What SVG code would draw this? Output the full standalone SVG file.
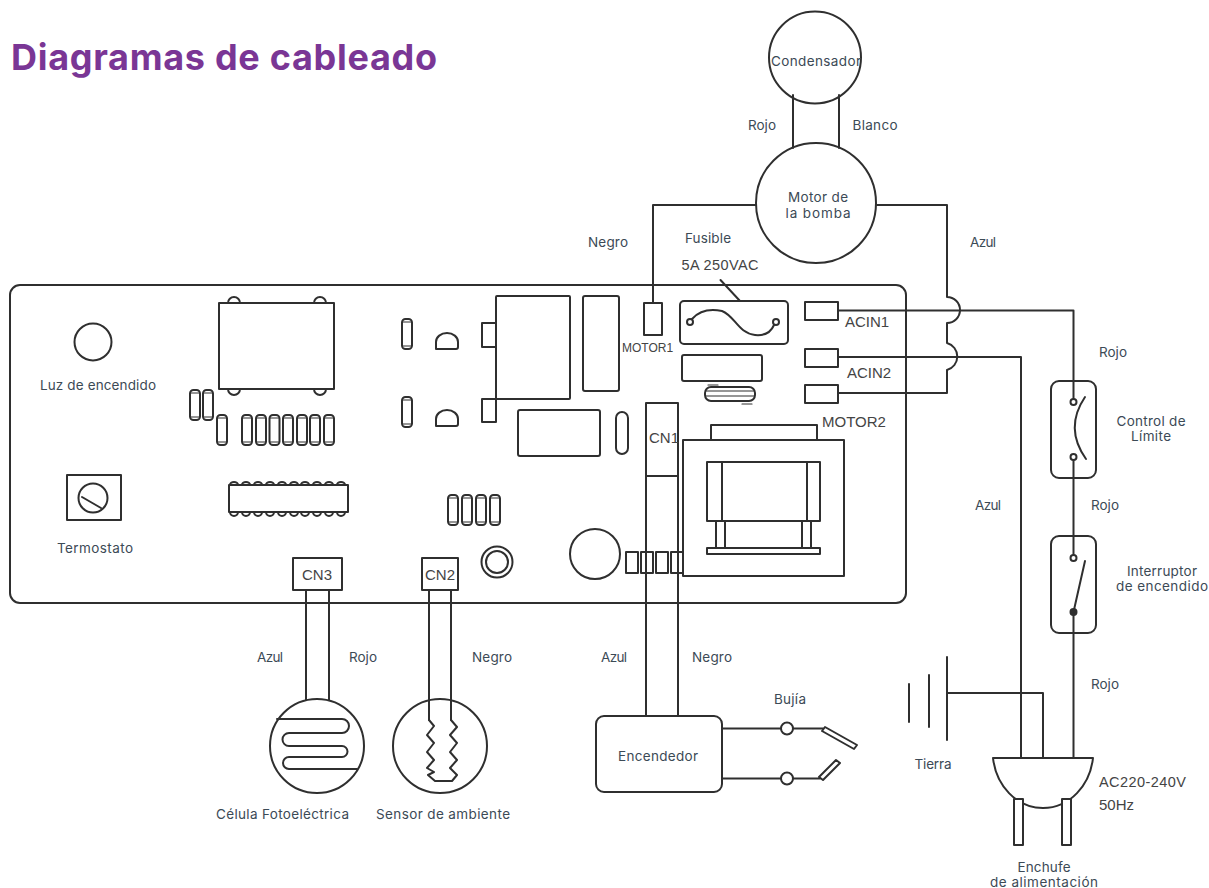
<svg xmlns="http://www.w3.org/2000/svg" width="1209" height="888" viewBox="0 0 1209 888">
<style>
.s{fill:none;stroke:#2f2f2f;stroke-width:2;stroke-linejoin:round;stroke-linecap:round}
.f{stroke-width:1.2}
.t{font-family:"Inter","Noto Sans",sans-serif;font-size:13.5px;fill:#3c4a56;text-anchor:middle}
.p{font-family:"Liberation Sans",Arial,sans-serif;fill:#444}
.ti{font-family:"Inter","Noto Sans",sans-serif;font-weight:700;font-size:36px;fill:#7a3695}
</style>
<defs>
<g id="res"><rect class="s" x="0" y="0" width="10" height="30" rx="3.500"/><path class="s f" d="M1 3H9M1 27H9"/></g>
<path id="d" class="s" d="M0 18V11a11 9 0 0 1 22 0V16a2 2 0 0 1-2 2Z"/>
</defs>
<rect width="1209" height="888" fill="#fff"/>
<text class="ti" x="11" y="70" textLength="426">Diagramas de cableado</text>

<g id="board">
<rect class="s" x="10" y="285" width="896" height="318" rx="10"/>
<g id="power-light"><circle class="s" cx="93" cy="342" r="18.500"/><text class="t" x="98" y="390" textLength="116">Luz de encendido</text></g>
<g id="thermostat"><rect class="s" x="67" y="475" width="54" height="45"/><circle class="s" cx="93" cy="498" r="14.500"/><path class="s" d="M82 497L101 508"/><text class="t" x="95" y="553" textLength="76">Termostato</text></g>
<g id="relay">
<path class="s" d="M228 303a6 6 0 0 1 12 0M314 303a6 6 0 0 1 12 0M228 389a6 6 0 0 0 12 0M314 389a6 6 0 0 0 12 0"/>
<rect class="s" x="219" y="303" width="115" height="86"/></g>
<g id="resistors-a">
<use href="#res" x="190" y="390"/><use href="#res" x="203" y="390"/><use href="#res" x="217" y="415"/>
<use href="#res" x="242" y="415"/><use href="#res" x="256" y="415"/><use href="#res" x="269.500" y="415"/><use href="#res" x="283" y="415"/><use href="#res" x="297" y="415"/><use href="#res" x="310" y="415"/><use href="#res" x="324" y="415"/></g>
<g id="ic">
<path class="s" d="M230 485a4 3 0 0 1 8 0M242 485a4 3 0 0 1 8 0M254 485a4 3 0 0 1 8 0M266 485a4 3 0 0 1 8 0M278 485a4 3 0 0 1 8 0M290 485a4 3 0 0 1 8 0M301 485a4 3 0 0 1 8 0M313 485a4 3 0 0 1 8 0M325 485a4 3 0 0 1 8 0M337 485a4 3 0 0 1 8 0"/>
<path class="s" d="M230 512a4 4 0 0 0 8 0M242 512a4 4 0 0 0 8 0M254 512a4 4 0 0 0 8 0M266 512a4 4 0 0 0 8 0M278 512a4 4 0 0 0 8 0M290 512a4 4 0 0 0 8 0M301 512a4 4 0 0 0 8 0M313 512a4 4 0 0 0 8 0M325 512a4 4 0 0 0 8 0M337 512a4 4 0 0 0 8 0"/>
<rect class="s" x="229" y="485" width="119" height="27"/></g>
<g id="cn3"><rect class="s" x="293" y="558" width="49" height="32"/><text class="p" x="317" y="580" font-size="15" text-anchor="middle">CN3</text></g>
<g id="cn2"><rect class="s" x="422" y="558" width="36" height="32"/><text class="p" x="440" y="580" font-size="15" text-anchor="middle">CN2</text></g>
<g id="mid-parts">
<use href="#res" x="402" y="319"/><use href="#res" x="402" y="397"/>
<use href="#d" x="436" y="331"/><use href="#d" x="436" y="408"/>
<rect class="s" x="482" y="323" width="14" height="24"/><rect class="s" x="482" y="399" width="14" height="23"/>
<rect class="s" x="496" y="296" width="74" height="103" rx="1"/>
<rect class="s" x="583" y="296" width="36" height="95" rx="2"/>
<rect class="s" x="518" y="410" width="82" height="46" rx="2"/>
<rect class="s" x="616" y="412" width="12" height="42" rx="6"/>
<use href="#res" x="448" y="495"/><use href="#res" x="462" y="495"/><use href="#res" x="476" y="495"/><use href="#res" x="490" y="495"/>
<circle class="s" cx="497" cy="562" r="15.500"/><circle class="s" cx="497" cy="562" r="11"/>
<circle class="s" cx="595" cy="554" r="25"/>
<rect class="s" x="626" y="552" width="12" height="21"/><rect class="s" x="641" y="552" width="12" height="21"/><rect class="s" x="656" y="552" width="12" height="21"/><rect class="s" x="671" y="552" width="12" height="21"/></g>
<g id="motor1"><rect class="s" x="644" y="303" width="18" height="32"/><text class="p" x="647.500" y="352" font-size="12" text-anchor="middle">MOTOR1</text></g>
<g id="fuse">
<rect class="s" x="680" y="301" width="108" height="43" rx="4"/>
<circle class="s" cx="690" cy="322" r="3"/><circle class="s" cx="776" cy="322" r="3"/>
<path class="s" d="M692 319C700 310 712 309 722 311C735 316 738 333 755 335C765 336 771 332 774 325"/>
<text class="t" x="708" y="243" textLength="46">Fusible</text>
<text class="p" x="720" y="270" font-size="14.500" text-anchor="middle" textLength="77">5A 250VAC</text></g>
<g id="cap-parts">
<rect class="s" x="682" y="355" width="80" height="26" rx="2"/>
<rect class="s" x="705" y="387" width="50" height="14" rx="6"/>
<path class="s f" d="M706 391H754M706 396H754M708 385H718M742 404H752"/></g>
<g id="acin">
<rect class="s" x="805" y="302" width="33" height="18"/><rect class="s" x="805" y="349" width="33" height="18"/><rect class="s" x="805" y="385" width="33" height="18"/>
<text class="p" x="845" y="327" font-size="15">ACIN1</text><text class="p" x="847" y="378" font-size="15">ACIN2</text><text class="p" x="822" y="427" font-size="15">MOTOR2</text></g>
<g id="cn1"><rect class="s" x="646" y="403" width="32" height="73"/><text class="p" x="649" y="443" font-size="15">CN1</text></g>
<g id="transformer">
<rect class="s" x="711" y="425" width="106" height="15"/>
<rect class="s" x="683" y="440" width="161" height="136" fill="#fff" style="fill:#fff"/>
<rect class="s" x="707" y="462" width="113" height="59"/>
<path class="s" d="M722 462V521M807 462V521M716 521V548M725 521V548M802 521V548M811 521V548"/>
<rect class="s" x="707" y="548" width="113" height="6"/></g>
</g>

<g id="connectors">
<path class="s" d="M653 303V205H756"/>
<path class="s" d="M877 205H947V297a13 13 0 0 1 0 26V343a14 14 0 0 1 0 27V393H838"/>
<path class="s" d="M838 310.500H1073.500V399"/>
<path class="s" d="M838 357H1021V758"/>
<path class="s" d="M793 95V148M839 95V148"/>
<path class="s" d="M306 590V700M329 590V700"/>
<path class="s" d="M429 590V720M451 590V720"/>
<path class="s" d="M646 476V716M678 476V716"/>
<path class="s" d="M722 728.500H781M793 728.500H823M722 778.500H781M793 778.500H820"/>
<path class="s" d="M947 693H1043V758"/>
<path class="s" d="M1073.500 460V555M1073.500 612V758"/>
<path class="s" d="M720.500 280L740 301"/>
</g>

<g id="capacitor"><circle class="s" cx="815" cy="57.500" r="46"/><text class="t" x="816" y="66" textLength="90">Condensador</text></g>
<g id="pump-motor"><circle class="s" cx="816" cy="203" r="60"/><text class="t" x="818" y="202" textLength="60">Motor de</text><text class="t" x="818" y="218" textLength="65">la bomba</text></g>
<g id="photocell"><circle class="s" cx="317" cy="746" r="47"/>
<path class="s" d="M277 719H342a7 7 0 0 1 0 14H289a6.500 6.500 0 0 0 0 13H342a5.500 5.500 0 0 1 0 11H289a6 6 0 0 0 0 12H357"/>
<text class="t" x="282.500" y="819" textLength="133">Célula Fotoeléctrica</text></g>
<g id="ambient-sensor"><circle class="s" cx="440" cy="746" r="47"/>
<path class="s" d="M429 720L434 726L427 735L434 743L427 752L434 760L427 768L434 772L428 775L435 781H452L457 775L450 768L457 760L450 752L457 743L450 735L457 727L451 720"/>
<text class="t" x="443" y="819" textLength="134">Sensor de ambiente</text></g>
<g id="igniter"><rect class="s" x="596" y="716" width="126" height="76" rx="8"/><text class="t" x="658" y="761" textLength="80">Encendedor</text></g>
<g id="spark-plug">
<circle class="s" cx="787" cy="728.500" r="6"/><circle class="s" cx="787" cy="778.500" r="6"/>
<path class="s" d="M825 727L822 731L854 749L857 745Z"/>
<path class="s" d="M819 777L823 780L840 763L836 760Z"/>
<text class="t" x="790" y="704" textLength="32">Bujía</text></g>
<g id="ground"><path class="s" d="M909 684V722M929 675V727M947 657V740"/><text class="t" x="933" y="769" textLength="37">Tierra</text></g>
<g id="plug">
<path class="s" d="M993 758H1093C1090 785 1070 808 1043 808C1016 808 996 785 993 758Z"/>
<rect class="s" x="1014" y="799" width="9" height="46" style="fill:#fff"/><rect class="s" x="1062" y="799" width="9" height="46" style="fill:#fff"/>
<text class="p" x="1099" y="787" font-size="14.500" textLength="87">AC220-240V</text><text class="p" x="1099" y="810" font-size="15">50Hz</text>
<text class="t" x="1044" y="872" textLength="53">Enchufe</text><text class="t" x="1044" y="887" textLength="108">de alimentación</text></g>
<g id="limit-control"><rect class="s" x="1051" y="381" width="45" height="97" rx="8"/>
<circle class="s" cx="1073.500" cy="402" r="3"/><circle class="s" cx="1073.500" cy="457" r="3"/>
<path class="s" d="M1085 397Q1064 428 1086 459"/>
<text class="t" x="1151" y="426" textLength="69">Control de</text><text class="t" x="1151" y="441" textLength="40">Límite</text></g>
<g id="power-switch"><rect class="s" x="1051" y="536" width="45" height="97" rx="8"/>
<circle class="s" cx="1073.500" cy="558" r="3"/><circle class="s" cx="1073.500" cy="612" r="3" style="fill:#2f2f2f"/>
<path class="s" d="M1085 561L1073.500 612"/>
<text class="t" x="1162" y="576" textLength="70">Interruptor</text><text class="t" x="1162" y="591" textLength="92">de encendido</text></g>

<g id="wire-labels">
<text class="t" x="762" y="130" textLength="28">Rojo</text><text class="t" x="875" y="130" textLength="45">Blanco</text>
<text class="t" x="608" y="247" textLength="40">Negro</text><text class="t" x="983" y="247" textLength="26">Azul</text>
<text class="t" x="1113" y="357" textLength="28">Rojo</text><text class="t" x="988" y="510" textLength="26">Azul</text><text class="t" x="1105" y="510" textLength="28">Rojo</text><text class="t" x="1105" y="689" textLength="28">Rojo</text>
<text class="t" x="270" y="662" textLength="26">Azul</text><text class="t" x="363" y="662" textLength="28">Rojo</text><text class="t" x="492" y="662" textLength="40">Negro</text>
<text class="t" x="614" y="662" textLength="26">Azul</text><text class="t" x="712" y="662" textLength="40">Negro</text>
</g>
</svg>
